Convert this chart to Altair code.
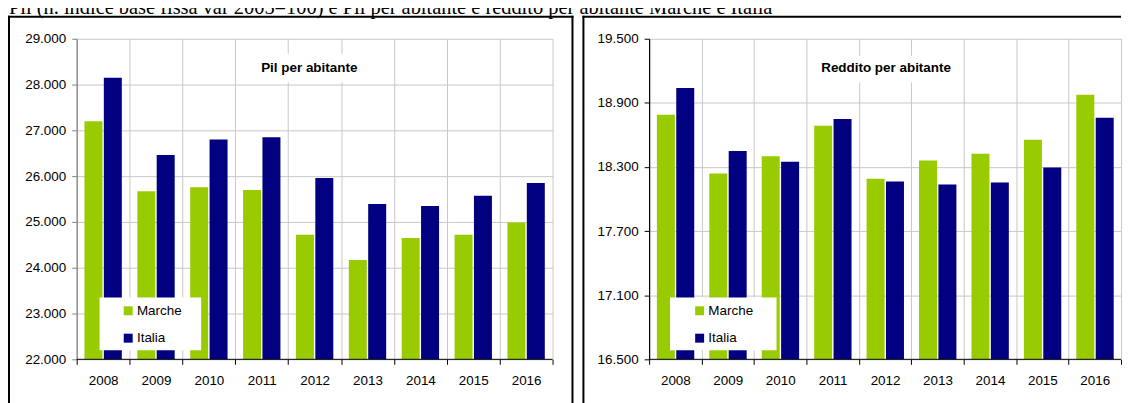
import altair as alt
import pandas as pd

# ---------------- data ----------------
years = ["2008", "2009", "2010", "2011", "2012", "2013", "2014", "2015", "2016"]
series = ["Marche", "Italia"]
pil_marche = [27200, 25670, 25760, 25700, 24720, 24170, 24650, 24720, 24990]
pil_italia = [28150, 26460, 26800, 26850, 25960, 25390, 25350, 25570, 25850]
red_marche = [18790, 18240, 18400, 18685, 18190, 18360, 18425, 18555, 18975]
red_italia = [19040, 18450, 18350, 18750, 18165, 18135, 18155, 18295, 18760]
pil_ticks = [22000, 23000, 24000, 25000, 26000, 27000, 28000, 29000]
red_ticks = [16500, 17100, 17700, 18300, 18900, 19500]
colors = ["#99cc00", "#000080"]
main_title = "Pil (n. indice base fissa var 2005=100) e Pil per abitante e reddito per abitante Marche e Italia"
title_pil = "Pil per abitante"
title_red = "Reddito per abitante"

FONT = "Liberation Sans"
GRID = "#c8c8c8"
H = 322
one = pd.DataFrame({"k": [0]})


def long(m, i):
    return pd.DataFrame({
        "anno": years * 2,
        "serie": ["Marche"] * len(years) + ["Italia"] * len(years),
        "valore": m + i,
    })


def vrule(x, y, y2, color="black", sw=2):
    return alt.Chart(one).mark_rule(color=color, strokeWidth=sw).encode(
        x=alt.value(x), y=alt.value(y), y2=alt.value(y2))


def hrule(y, x, x2, color="black", sw=2):
    return alt.Chart(one).mark_rule(color=color, strokeWidth=sw).encode(
        y=alt.value(y), x=alt.value(x), x2=alt.value(x2))


def box(x, x2, y, y2):
    return alt.Chart(one).mark_rect(color="white").encode(
        x=alt.value(x), x2=alt.value(x2), y=alt.value(y), y2=alt.value(y2))


def panel(df, ticks, w, ptitle, tx, tbox, lbox, lxy, axis_color, decorations):
    lo, hi = ticks[0], ticks[-1]
    x = alt.X("anno:N", sort=years, title=None,
              scale=alt.Scale(paddingInner=0, paddingOuter=0),
              axis=alt.Axis(tickBand="extent", grid=True, gridColor=GRID, gridWidth=1,
                            domain=False, ticks=True, tickColor="black", tickSize=5,
                            tickWidth=1, labelAngle=0, labelPadding=9, labelFont=FONT,
                            labelFontSize=13.5, labelColor="black"))
    y = alt.Y("valore:Q", title=None,
              scale=alt.Scale(domain=[lo, hi], nice=False, zero=False),
              axis=alt.Axis(values=ticks, grid=True, gridColor=GRID, gridWidth=1,
                            domainColor=axis_color, domainWidth=1.2, tickColor=axis_color,
                            tickSize=5, labelPadding=6, labelFont=FONT, labelFontSize=13.5,
                            labelColor="black",
                            labelExpr="replace(format(datum.value, ','), ',', '.')"))
    bars = alt.Chart(df).mark_bar().encode(
        x=x, y=y, y2=alt.datum(lo),
        xOffset=alt.XOffset("serie:N", sort=series,
                            scale=alt.Scale(paddingInner=0.072, paddingOuter=0.40)),
        color=alt.Color("serie:N", sort=series,
                        scale=alt.Scale(domain=series, range=colors),
                        legend=alt.Legend(orient="none", legendX=lxy[0], legendY=lxy[1],
                                          title=None, symbolType="square", symbolSize=81,
                                          symbolStrokeWidth=0, labelFont=FONT,
                                          labelFontSize=13.5, labelColor="black",
                                          labelOffset=2, rowPadding=12.5, padding=0)),
    )
    base_line = hrule(H, 0, w, sw=1)
    ttext = alt.Chart(one).mark_text(font=FONT, fontSize=13.5, fontWeight="bold",
                                     color="black").encode(
        x=alt.value(tx), y=alt.value(29), text=alt.value(ptitle))
    layers = [box(*tbox), bars, base_line, ttext, box(*lbox)] + decorations
    return alt.layer(*layers).properties(width=w, height=H)


left_dec = [
    vrule(-68, -23, 370),
    hrule(-22, -69, 499),
    vrule(498, -23, 370),
    alt.Chart(one).mark_text(align="left", baseline="alphabetic", font="Liberation Serif",
                             fontSize=20.5, color="black").encode(
        x=alt.value(-68), y=alt.value(-25), text=alt.value(main_title)),
]
right_dec = [
    vrule(-66, -23, 370),
    hrule(-22, -67, 474),
]

left = panel(long(pil_marche, pil_italia), pil_ticks, 478, title_pil, 233.6,
             (168, 298, 15, 44), (23, 125, 260, 313), (45, 266.5), "#808080", left_dec)
right = panel(long(red_marche, red_italia), red_ticks, 474, title_red, 238,
              (165, 306, 17, 44), (21, 128, 260, 313), (44, 266.5), "black", right_dec)

chart = alt.hconcat(left, right, spacing=97, bounds="flush").resolve_legend(
    color="independent").properties(
    padding={"left": -1, "top": -11, "right": 0, "bottom": 0}
).configure_view(strokeWidth=0)

chart.save("out.html", embed_options={"renderer": "svg", "actions": False})
